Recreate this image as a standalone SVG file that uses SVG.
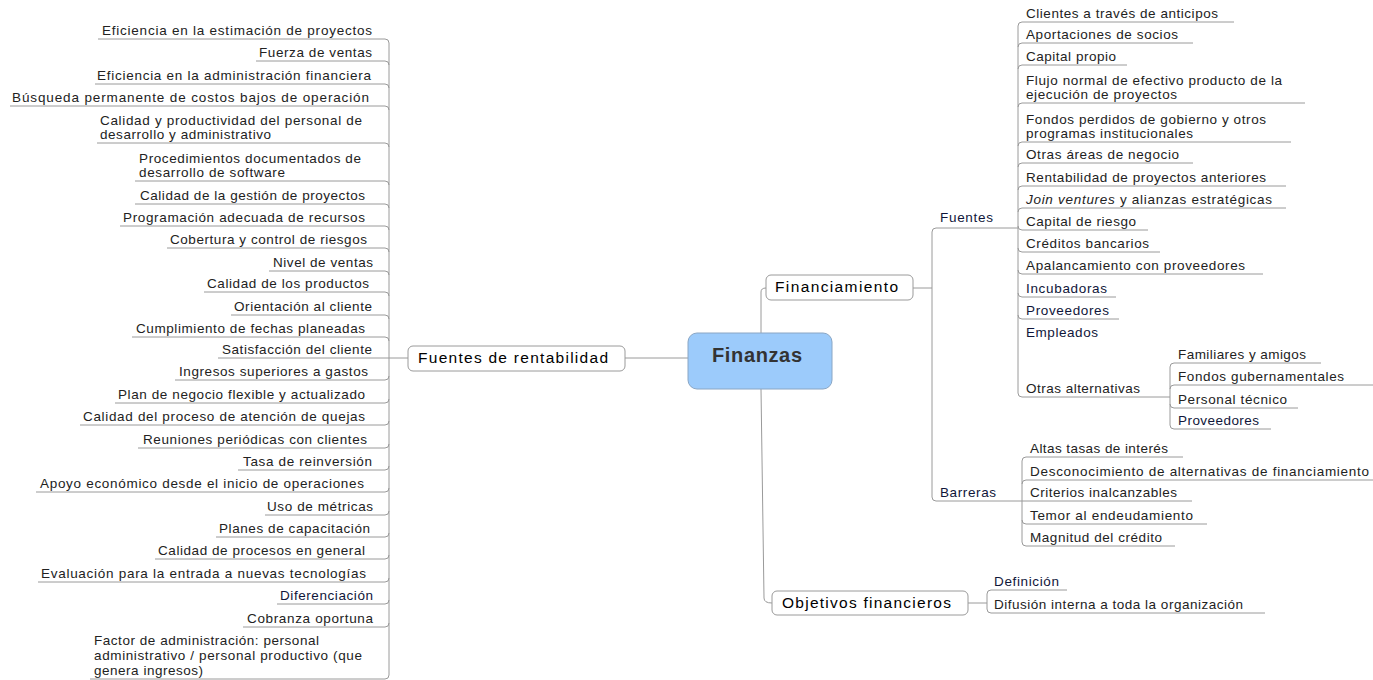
<svg xmlns="http://www.w3.org/2000/svg" width="1373" height="680" viewBox="0 0 1373 680">
<style>
.t{font-family:"Liberation Sans",Arial,sans-serif;font-size:13.5px;fill:#222}
.dk{fill:#10163a}
.bt{font-family:"Liberation Sans",Arial,sans-serif;font-size:15.5px;fill:#000}
.ct{font-family:"Liberation Sans",Arial,sans-serif;font-size:20px;font-weight:bold;fill:#333}
.ul{stroke:#9a9a9a;stroke-width:1;fill:none}
.c{stroke:#9a9a9a;stroke-width:1;fill:none}
.box{fill:#fff;stroke:#9a9a9a;stroke-width:1}
.cbox{fill:#9ccbfb;stroke:#8aa6c4;stroke-width:1}
</style>
<rect width="1373" height="680" fill="#fff"/>
<g id="connectors">
<path class="c" d="M389,43 V675"/>
<path class="c" d="M385,39 Q389,39 389,43 M385,61 Q389,61 389,65 M385,84 Q389,84 389,88 M385,106 Q389,106 389,110 M385,143 Q389,143 389,147 M385,181 Q389,181 389,185 M385,204 Q389,204 389,208 M385,226 Q389,226 389,230 M385,248 Q389,248 389,252 M385,271 Q389,271 389,275 M385,292 Q389,292 389,296 M385,315 Q389,315 389,319 M385,337 Q389,337 389,341"/>
<path class="c" d="M385,358 H408"/>
<path class="c" d="M385,380 Q389,380 389,376 M385,403 Q389,403 389,399 M385,425 Q389,425 389,421 M385,448 Q389,448 389,444 M385,470 Q389,470 389,466 M385,492 Q389,492 389,488 M385,515 Q389,515 389,511 M385,537 Q389,537 389,533 M385,559 Q389,559 389,555 M385,582 Q389,582 389,578 M385,604 Q389,604 389,600 M385,627 Q389,627 389,623 M385,679 Q389,679 389,675"/>
<path class="c" d="M625,358 H688"/>
<path class="c" d="M761,333 V292 Q761,288 766,288"/>
<path class="c" d="M761,389 L764,598 Q764,603 772,603"/>
<path class="c" d="M913,288 H932 M932,232 V497 M932,232 Q932,228 936,228 M932,497 Q932,501 936,501"/>
<path class="c" d="M1018,26 V393"/>
<path class="c" d="M1018,26 Q1018,22 1022,22 M1018,47 Q1018,43 1022,43 M1018,69 Q1018,65 1022,65 M1018,107 Q1018,103 1022,103 M1018,146 Q1018,142 1022,142 M1018,167 Q1018,163 1022,163 M1018,190 Q1018,186 1022,186 M1018,212 Q1018,208 1022,208"/>
<path class="c" d="M1018,226 Q1018,230 1022,230 M1018,248 Q1018,252 1022,252 M1018,270 Q1018,274 1022,274 M1018,293 Q1018,297 1022,297 M1018,315 Q1018,319 1022,319 M1018,393 Q1018,397 1022,397"/>
<path class="c" d="M1022,461 V542 M1022,461 Q1022,457 1026,457 M1022,484 Q1022,480 1026,480 M1022,520 Q1022,524 1026,524 M1022,542 Q1022,546 1026,546"/>
<path class="c" d="M1170,367 V425 M1170,367 Q1170,363 1174,363 M1170,389 Q1170,385 1174,385 M1170,404 Q1170,408 1174,408 M1170,425 Q1170,429 1174,429"/>
<path class="c" d="M968,603 H987 M987,594 V609 M987,594 Q987,590 991,590 M987,609 Q987,613 991,613"/>
</g>
<g id="finanzas">
<rect class="cbox" x="688" y="333" width="144" height="56" rx="9"/>
<text class="ct" x="712" y="362" textLength="90">Finanzas</text>
</g>
<g id="fuentes-de-rentabilidad">
<rect class="box" x="408" y="346" width="217" height="25" rx="5"/>
<text class="bt" x="418" y="363" textLength="190">Fuentes de rentabilidad</text>
</g>
<g id="financiamiento">
<rect class="box" x="766" y="275" width="147" height="25" rx="5"/>
<text class="bt" x="775" y="292" textLength="123">Financiamiento</text>
</g>
<g id="objetivos-financieros">
<rect class="box" x="772" y="591" width="196" height="24" rx="5"/>
<text class="bt" x="782" y="608" textLength="169">Objetivos financieros</text>
</g>
<g id="l1"><text class="t" x="102" y="35" textLength="270">Eficiencia en la estimación de proyectos</text><path class="ul" d="M98,39 H385"/></g>
<g id="l2"><text class="t" x="259" y="57" textLength="113">Fuerza de ventas</text><path class="ul" d="M256,61 H385"/></g>
<g id="l3"><text class="t" x="97" y="80" textLength="274">Eficiencia en la administración financiera</text><path class="ul" d="M95,84 H385"/></g>
<g id="l4"><text class="t" x="12" y="102" textLength="357">Búsqueda permanente de costos bajos de operación</text><path class="ul" d="M10,106 H385"/></g>
<g id="l5"><text class="t" x="100" y="124.5" textLength="262">Calidad y productividad del personal de</text><text class="t" x="100" y="139" textLength="171">desarrollo y administrativo</text><path class="ul" d="M97,143 H385"/></g>
<g id="l6"><text class="t" x="139" y="162.5" textLength="222">Procedimientos documentados de</text><text class="t" x="139" y="177" textLength="146">desarrollo de software</text><path class="ul" d="M135,181 H385"/></g>
<g id="l7"><text class="t" x="140" y="200" textLength="225">Calidad de la gestión de proyectos</text><path class="ul" d="M135,204 H385"/></g>
<g id="l8"><text class="t" x="123" y="222" textLength="242">Programación adecuada de recursos</text><path class="ul" d="M120,226 H385"/></g>
<g id="l9"><text class="t" x="170" y="244" textLength="197">Cobertura y control de riesgos</text><path class="ul" d="M167,248 H385"/></g>
<g id="l10"><text class="t" x="273" y="267" textLength="100">Nivel de ventas</text><path class="ul" d="M269,271 H385"/></g>
<g id="l11"><text class="t" x="207" y="288" textLength="162">Calidad de los productos</text><path class="ul" d="M204,292 H385"/></g>
<g id="l12"><text class="t" x="234" y="311" textLength="138">Orientación al cliente</text><path class="ul" d="M231,315 H385"/></g>
<g id="l13"><text class="t" x="136" y="333" textLength="229">Cumplimiento de fechas planeadas</text><path class="ul" d="M132,337 H385"/></g>
<g id="l14"><text class="t" x="222" y="354" textLength="150">Satisfacción del cliente</text><path class="ul" d="M218,358 H385"/></g>
<g id="l15"><text class="t" x="179" y="376" textLength="189">Ingresos superiores a gastos</text><path class="ul" d="M175,380 H385"/></g>
<g id="l16"><text class="t" x="118" y="399" textLength="247">Plan de negocio flexible y actualizado</text><path class="ul" d="M115,403 H385"/></g>
<g id="l17"><text class="t" x="83" y="421" textLength="282">Calidad del proceso de atención de quejas</text><path class="ul" d="M80,425 H385"/></g>
<g id="l18"><text class="t" x="143" y="444" textLength="224">Reuniones periódicas con clientes</text><path class="ul" d="M138,448 H385"/></g>
<g id="l19"><text class="t" x="243" y="466" textLength="129">Tasa de reinversión</text><path class="ul" d="M238,470 H385"/></g>
<g id="l20"><text class="t" x="40" y="488" textLength="324">Apoyo económico desde el inicio de operaciones</text><path class="ul" d="M36,492 H385"/></g>
<g id="l21"><text class="t" x="267" y="511" textLength="106">Uso de métricas</text><path class="ul" d="M265,515 H385"/></g>
<g id="l22"><text class="t" x="219" y="533" textLength="151">Planes de capacitación</text><path class="ul" d="M216,537 H385"/></g>
<g id="l23"><text class="t" x="158" y="555" textLength="207">Calidad de procesos en general</text><path class="ul" d="M155,559 H385"/></g>
<g id="l24"><text class="t" x="41" y="578" textLength="325">Evaluación para la entrada a nuevas tecnologías</text><path class="ul" d="M38,582 H385"/></g>
<g id="l25"><text class="t dk" x="280" y="600" textLength="93">Diferenciación</text><path class="ul" d="M277,604 H385"/></g>
<g id="l26"><text class="t" x="247" y="623" textLength="126">Cobranza oportuna</text><path class="ul" d="M243,627 H385"/></g>
<g id="l27"><text class="t" x="94" y="645" textLength="225">Factor de administración: personal</text><text class="t" x="94" y="660" textLength="268">administrativo / personal productivo (que</text><text class="t" x="94" y="675" textLength="109">genera ingresos)</text><path class="ul" d="M90,679 H385"/></g>
<g id="fuentes"><text class="t dk" x="940" y="222" textLength="53">Fuentes</text><path class="ul" d="M936,228 H1018"/></g>
<g id="barreras"><text class="t dk" x="940" y="497" textLength="56">Barreras</text><path class="ul" d="M936,501 H1022"/></g>
<g id="f1"><text class="t" x="1026" y="18" textLength="192">Clientes a través de anticipos</text><path class="ul" d="M1022,22 H1234"/></g>
<g id="f2"><text class="t" x="1026" y="39" textLength="152">Aportaciones de socios</text><path class="ul" d="M1022,43 H1193"/></g>
<g id="f3"><text class="t" x="1026" y="61" textLength="90">Capital propio</text><path class="ul" d="M1022,65 H1127"/></g>
<g id="f4"><text class="t" x="1026" y="84.5" textLength="256">Flujo normal de efectivo producto de la</text><text class="t" x="1026" y="99" textLength="151">ejecución de proyectos</text><path class="ul" d="M1022,103 H1305"/></g>
<g id="f5"><text class="t" x="1026" y="123.5" textLength="240">Fondos perdidos de gobierno y otros</text><text class="t" x="1026" y="138" textLength="167">programas institucionales</text><path class="ul" d="M1022,142 H1291"/></g>
<g id="f6"><text class="t" x="1026" y="159" textLength="153">Otras áreas de negocio</text><path class="ul" d="M1022,163 H1193"/></g>
<g id="f7"><text class="t" x="1026" y="182" textLength="240">Rentabilidad de proyectos anteriores</text><path class="ul" d="M1022,186 H1286"/></g>
<g id="f8"><text class="t" x="1026" y="204" textLength="246"><tspan font-style="italic">Join ventures</tspan> y alianzas estratégicas</text><path class="ul" d="M1022,208 H1286"/></g>
<g id="f9"><text class="t" x="1026" y="226" textLength="110">Capital de riesgo</text><path class="ul" d="M1022,230 H1148"/></g>
<g id="f10"><text class="t" x="1026" y="248" textLength="123">Créditos bancarios</text><path class="ul" d="M1022,252 H1160"/></g>
<g id="f11"><text class="t" x="1026" y="270" textLength="219">Apalancamiento con proveedores</text><path class="ul" d="M1022,274 H1263"/></g>
<g id="f12"><text class="t dk" x="1026" y="293" textLength="81">Incubadoras</text><path class="ul" d="M1022,297 H1116"/></g>
<g id="f13"><text class="t dk" x="1026" y="315" textLength="83">Proveedores</text><path class="ul" d="M1022,319 H1119"/></g>
<g id="f14"><text class="t dk" x="1026" y="337" textLength="72">Empleados</text></g>
<g id="f15"><text class="t" x="1026" y="393" textLength="114">Otras alternativas</text><path class="ul" d="M1022,397 H1170"/></g>
<g id="o1"><text class="t" x="1178" y="359" textLength="128">Familiares y amigos</text><path class="ul" d="M1174,363 H1321"/></g>
<g id="o2"><text class="t" x="1178" y="381" textLength="166">Fondos gubernamentales</text><path class="ul" d="M1174,385 H1373"/></g>
<g id="o3"><text class="t" x="1178" y="404" textLength="109">Personal técnico</text><path class="ul" d="M1174,408 H1298"/></g>
<g id="o4"><text class="t dk" x="1178" y="425" textLength="81">Proveedores</text><path class="ul" d="M1174,429 H1271"/></g>
<g id="b1"><text class="t" x="1030" y="453" textLength="138">Altas tasas de interés</text><path class="ul" d="M1026,457 H1183"/></g>
<g id="b2"><text class="t" x="1030" y="476" textLength="339">Desconocimiento de alternativas de financiamiento</text><path class="ul" d="M1026,480 H1373"/></g>
<g id="b3"><text class="t" x="1030" y="497" textLength="147">Criterios inalcanzables</text><path class="ul" d="M1022,501 H1192"/></g>
<g id="b4"><text class="t" x="1030" y="520" textLength="163">Temor al endeudamiento</text><path class="ul" d="M1026,524 H1207"/></g>
<g id="b5"><text class="t" x="1030" y="542" textLength="132">Magnitud del crédito</text><path class="ul" d="M1026,546 H1175"/></g>
<g id="d1"><text class="t dk" x="994" y="586" textLength="65">Definición</text><path class="ul" d="M991,590 H1067"/></g>
<g id="d2"><text class="t" x="994" y="609" textLength="249">Difusión interna a toda la organización</text><path class="ul" d="M991,613 H1265"/></g>
</svg>
